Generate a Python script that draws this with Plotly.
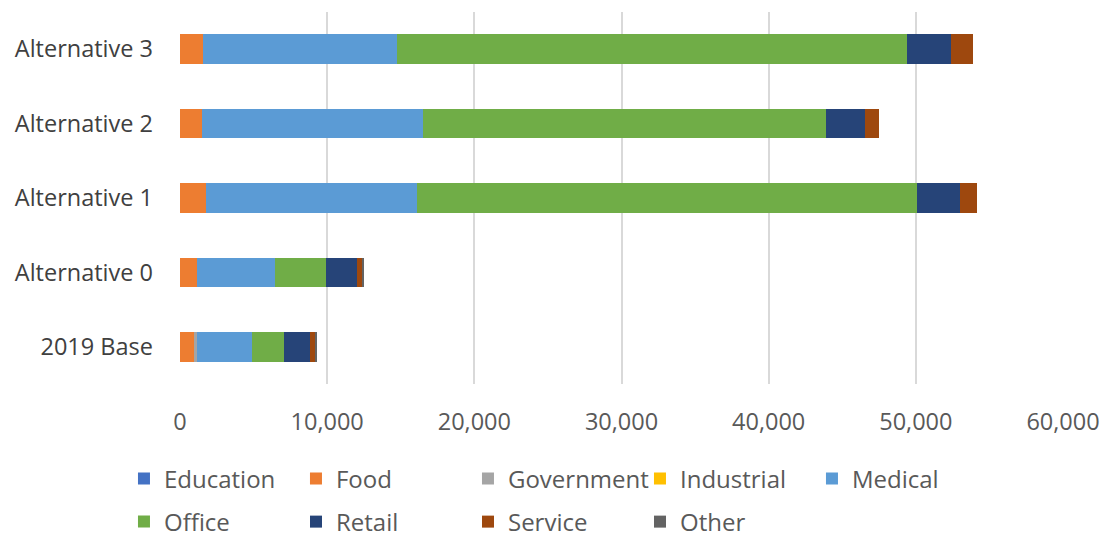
import plotly.graph_objects as go

categories = ["2019 Base", "Alternative 0", "Alternative 1", "Alternative 2", "Alternative 3"]

education = [0, 0, 0, 0, 0]
food = [950, 1175, 1745, 1510, 1540]
government = [200, 0, 0, 0, 0]
industrial = [0, 0, 0, 0, 0]
medical = [3740, 5300, 14380, 14980, 13180]
office = [2170, 3425, 33960, 27400, 34650]
retail = [1770, 2106, 2940, 2650, 2990]
service = [410, 408, 1140, 970, 1500]
other = [100, 60, 0, 0, 0]

tick_vals = [0, 10000, 20000, 30000, 40000, 50000, 60000]
tick_text = ["0", "10,000", "20,000", "30,000", "40,000", "50,000", "60,000"]

series = [
    ("Education", education, "#4472C4", "legend"),
    ("Food", food, "#ED7D31", "legend"),
    ("Government", government, "#A5A5A5", "legend"),
    ("Industrial", industrial, "#FFC000", "legend"),
    ("Medical", medical, "#5B9BD5", "legend"),
    ("Office", office, "#70AD47", "legend2"),
    ("Retail", retail, "#264478", "legend2"),
    ("Service", service, "#9E480E", "legend2"),
    ("Other", other, "#636363", "legend2"),
]

fig = go.Figure()
for name, vals, color, lg in series:
    fig.add_trace(go.Bar(
        y=categories, x=vals, name=name, orientation="h",
        marker=dict(color=color, line=dict(width=0)),
        legend=lg,
    ))

font = dict(family="Open Sans", size=23.5, color="#595959")
yfont = dict(family="Open Sans", size=23.5, color="#404040")
lfont = dict(family="Open Sans", size=24, color="#595959")

fig.update_layout(
    barmode="stack",
    bargap=0.6,
    width=1102, height=539,
    margin=dict(l=180, r=39, t=12, b=155),
    paper_bgcolor="white", plot_bgcolor="white",
    font=font,
    xaxis=dict(
        range=[0, 60000], tickvals=tick_vals, ticktext=tick_text,
        showgrid=True, gridcolor="#D9D9D9", gridwidth=1.5,
        zeroline=False, showline=False, ticks="", automargin=False,
        ticklabelstandoff=21, tickfont=font,
    ),
    yaxis=dict(
        categoryorder="array", categoryarray=categories,
        showgrid=False, zeroline=False, showline=False, ticks="", automargin=False,
        ticklabelstandoff=26, tickfont=yfont,
    ),
    legend=dict(
        orientation="h", xref="container", yref="container",
        x=0.1125, xanchor="left", y=0.1113, yanchor="middle",
        entrywidth=127, entrywidthmode="pixels", traceorder="normal",
        font=lfont, itemwidth=30, bgcolor="rgba(0,0,0,0)",
    ),
    legend2=dict(
        orientation="h", xref="container", yref="container",
        x=0.1125, xanchor="left", y=0.0315, yanchor="middle",
        entrywidth=127, entrywidthmode="pixels", traceorder="normal",
        font=lfont, itemwidth=30, bgcolor="rgba(0,0,0,0)",
    ),
)

fig.write_html("out.html")
